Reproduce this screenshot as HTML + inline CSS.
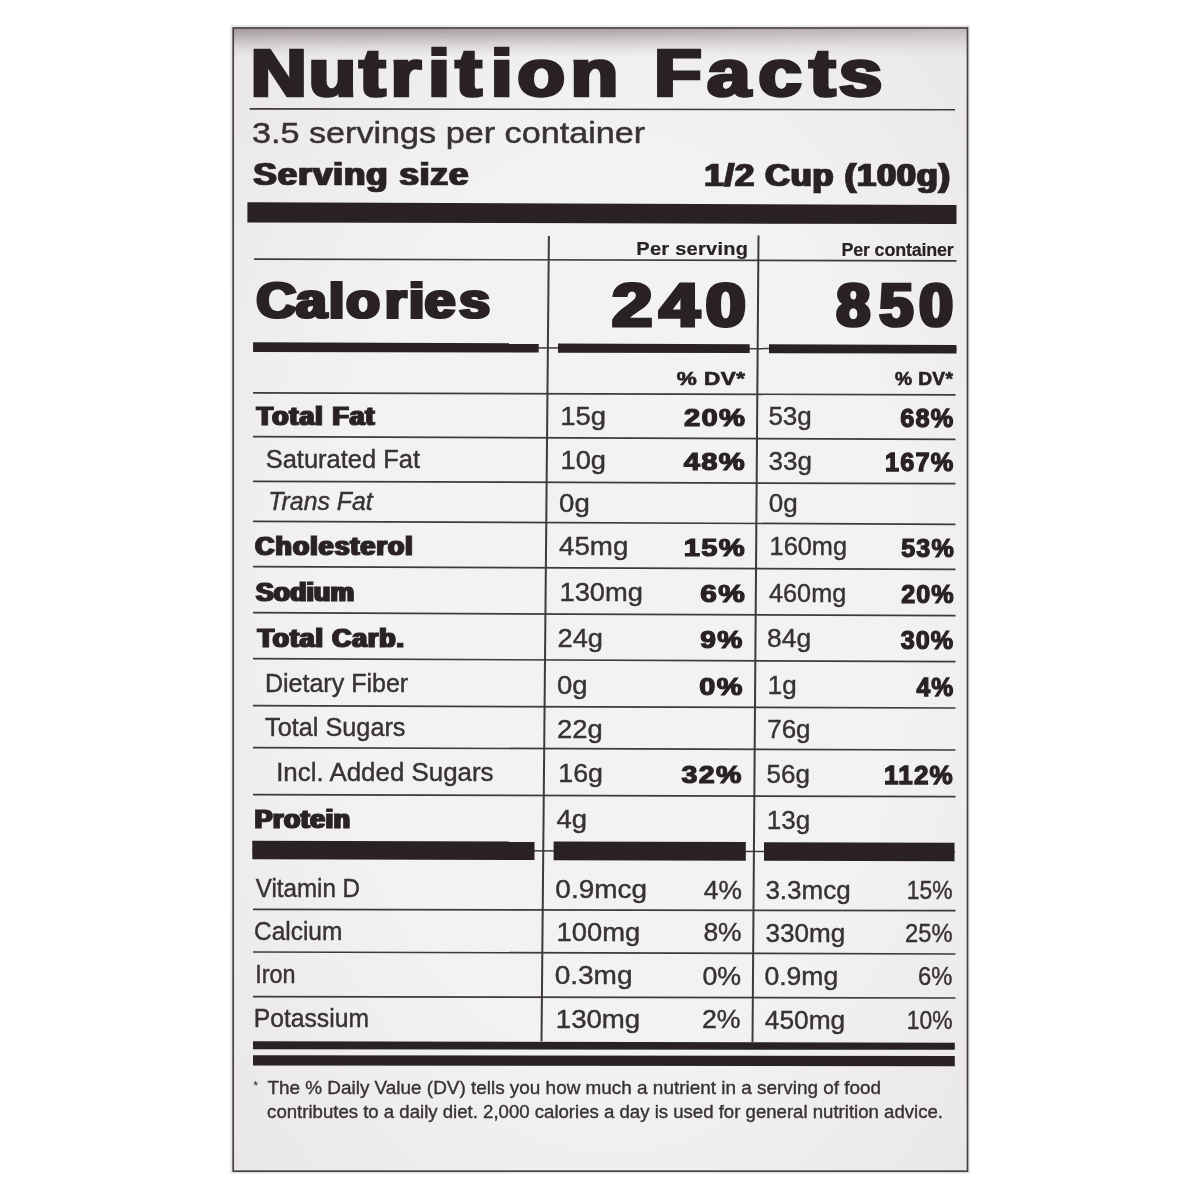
<!DOCTYPE html>
<html><head><meta charset="utf-8"><title>Nutrition Facts</title>
<style>
html,body{margin:0;padding:0;background:#fff;}
body{width:1200px;height:1200px;overflow:hidden;}
svg{display:block;}
</style></head><body>
<svg width="1200" height="1200" viewBox="0 0 1200 1200">
<defs>
<linearGradient id="topsh" x1="0" y1="0" x2="0" y2="1">
<stop offset="0" stop-color="#a3989b" stop-opacity="1"/>
<stop offset="0.35" stop-color="#aea4a6" stop-opacity="0.65"/>
<stop offset="0.7" stop-color="#bab1b2" stop-opacity="0.25"/>
<stop offset="1" stop-color="#c4bdbe" stop-opacity="0"/>
</linearGradient>
<linearGradient id="tophz" x1="0" y1="0" x2="1" y2="0">
<stop offset="0" stop-color="#fff" stop-opacity="1"/>
<stop offset="0.5" stop-color="#fff" stop-opacity="0.9"/>
<stop offset="1" stop-color="#fff" stop-opacity="0.55"/>
</linearGradient>
<radialGradient id="vig" cx="0.5" cy="0.5" r="0.72" fx="0.55" fy="0.5">
<stop offset="0.55" stop-color="#7a6a6c" stop-opacity="0"/>
<stop offset="1" stop-color="#7a6a6c" stop-opacity="0.09"/>
</radialGradient>
<filter id="dil1" x="-0.1" y="-0.2" width="1.2" height="1.4"><feMorphology operator="dilate" radius="1 0"/></filter>
<filter id="soft" filterUnits="userSpaceOnUse" x="0" y="0" width="1200" height="1200"><feGaussianBlur stdDeviation="0.45"/></filter>
<mask id="topmask" maskUnits="userSpaceOnUse" x="230" y="25" width="740" height="40">
<rect x="230" y="25" width="740" height="40" fill="url(#tophz)"/>
</mask>
</defs>
<rect x="0" y="0" width="1200" height="1200" fill="#ffffff"/>
<rect x="230" y="25" width="740" height="1148.5" fill="#f3f2f2"/>
<rect x="230" y="25" width="740" height="1148.5" fill="url(#vig)"/>
<rect x="234" y="29" width="733" height="28" fill="url(#topsh)" mask="url(#topmask)"/>
<rect x="233.2" y="28.0" width="734.3" height="1143.2" fill="none" stroke="#474141" stroke-width="1.7"/>
<g filter="url(#soft)">
<g>
<line x1="249.6" y1="108.9" x2="955" y2="109.8" stroke="#403a3a" stroke-width="1.6"/>
<polygon points="247.4,202.3 956.5,204.9 956.5,224.1 247.4,222.4" fill="#2a2323"/>
<line x1="254.0" y1="259.1" x2="956.5" y2="260.9" stroke="#403a3a" stroke-width="1.7"/>
<line x1="253" y1="347.1" x2="956.5" y2="349.2" stroke="#403a3a" stroke-width="1.5"/>
<polygon points="253.1,342.3003695806681 538.7,343.3558919687278 538.7,352.5903909026297 253.1,351.9002416488983" fill="#2a2323"/>
<polygon points="558,343.4272210376688 749.7,344.1357071783937 749.7,353.10027007818053 558,352.6370291400142" fill="#2a2323"/>
<polygon points="769,344.2070362473347 956.5,344.9 956.5,353.6 769,353.14690831556504" fill="#2a2323"/>
<line x1="253.0" y1="392.9" x2="955.5" y2="394.8" stroke="#403a3a" stroke-width="1.7"/>
<line x1="253.0" y1="436.7" x2="955.5" y2="439.3" stroke="#403a3a" stroke-width="1.7"/>
<line x1="253.0" y1="481.3" x2="955.5" y2="483.7" stroke="#403a3a" stroke-width="1.7"/>
<line x1="253.0" y1="521.3" x2="955.5" y2="524.3" stroke="#403a3a" stroke-width="1.7"/>
<line x1="253.0" y1="566.7" x2="955.5" y2="569.3" stroke="#403a3a" stroke-width="1.7"/>
<line x1="253.0" y1="612.7" x2="955.5" y2="615.7" stroke="#403a3a" stroke-width="1.7"/>
<line x1="253.0" y1="658.7" x2="955.5" y2="661.6" stroke="#403a3a" stroke-width="1.7"/>
<line x1="253.0" y1="705.7" x2="955.5" y2="708.0" stroke="#403a3a" stroke-width="1.7"/>
<line x1="253.0" y1="747.6" x2="955.5" y2="750.0" stroke="#403a3a" stroke-width="1.7"/>
<line x1="253.0" y1="794.7" x2="955.5" y2="796.7" stroke="#403a3a" stroke-width="1.7"/>
<line x1="252.3" y1="850.0" x2="955" y2="852.0" stroke="#403a3a" stroke-width="1.5"/>
<polygon points="252.3,840.7 534.5,841.5031877045682 534.5,860.1031877045681 252.3,859.3" fill="#2a2323"/>
<polygon points="553.6,841.5575494521133 745.8,842.1045823253166 745.8,860.7045823253166 553.6,860.1575494521132" fill="#2a2323"/>
<polygon points="764,842.1563825245482 954.5,842.6985769176035 954.5,861.2985769176034 764,860.7563825245481" fill="#2a2323"/>
<line x1="253.0" y1="909.3" x2="955.5" y2="910.7" stroke="#403a3a" stroke-width="1.7"/>
<line x1="253.0" y1="952.0" x2="955.5" y2="954.0" stroke="#403a3a" stroke-width="1.7"/>
<line x1="253.0" y1="996.7" x2="955.5" y2="998.0" stroke="#403a3a" stroke-width="1.7"/>
<polygon points="253,1041.3 954.8,1042.7 954.8,1049.8 253,1049.3" fill="#2a2323"/>
<polygon points="253,1055.3 954.8,1056.0 954.8,1066.2 253,1065.5" fill="#2a2323"/>
<line x1="548.9" y1="236.0" x2="541.5" y2="1041.5" stroke="#403a3a" stroke-width="2.0"/>
<line x1="758.5" y1="235.5" x2="752.5" y2="1042.0" stroke="#403a3a" stroke-width="2.0"/>
</g>
<g font-family="'Liberation Sans', sans-serif" fill="#2a2424" stroke="#2a2424" stroke-linejoin="miter" stroke-miterlimit="3">
<text transform="translate(0.00 96.33) scale(1.1600 1)" font-size="66.80" font-weight="bold" stroke-width="2.34" filter="url(#dil1)" x="216.10 266.28 309.93 336.79 369.29 392.94 423.25 446.03 491.96 532.77 563.94 609.75 653.96 697.86 723.36">Nutrition Facts</text>
<text transform="translate(251.90 143.06) scale(1.1410 1)" font-size="29.97" fill="#383232" stroke="#383232" stroke-width="0.48">3.5 servings per container</text>
<text transform="translate(253.59 185.22) scale(1.1200 1)" font-size="31.02" font-weight="bold" stroke-width="0.56" letter-spacing="0.98" filter="url(#dil1)">Serving size</text>
<text transform="translate(704.59 185.52) scale(1.1200 1)" font-size="30.59" font-weight="bold" stroke-width="0.55" letter-spacing="0.77" filter="url(#dil1)">1/2 Cup (100g)</text>
<text transform="translate(636.35 254.91) scale(1.1200 1)" font-size="17.91" font-weight="bold" stroke-width="0.18" letter-spacing="0.22">Per serving</text>
<text transform="translate(841.47 255.51) scale(0.9554 1)" font-size="18.77" font-weight="bold" stroke-width="0.19" letter-spacing="-0.19">Per container</text>
<text transform="translate(0.00 318.39) scale(1.1200 1)" font-size="49.11" font-weight="bold" stroke-width="2.21" filter="url(#dil1)" x="229.14 264.28 293.68 309.05 343.68 365.11 379.14 409.95">Calories</text>
<text transform="translate(0.00 325.91) scale(1.1609 1)" font-size="61.80" font-weight="bold" stroke-width="2.78" filter="url(#dil1)" x="527.40 568.09 608.03">240</text>
<text transform="translate(0.00 325.93) scale(0.9939 1)" font-size="60.85" font-weight="bold" stroke-width="2.74" filter="url(#dil1)" x="841.64 884.85 924.85">850</text>
<text transform="translate(676.74 384.68) scale(1.2260 1)" font-size="18.40" font-weight="bold" stroke-width="0.64" letter-spacing="0.37">% DV*</text>
<text transform="translate(895.04 384.68) scale(1.0404 1)" font-size="18.40" font-weight="bold" stroke-width="0.64" letter-spacing="0.37">% DV*</text>
<text transform="translate(256.80 424.60) scale(1.0000 1)" font-size="26.46" font-weight="bold" stroke-width="0.79" letter-spacing="1.17" filter="url(#dil1)">Total Fat</text>
<text transform="translate(265.66 467.79) scale(0.9603 1)" font-size="26.56" fill="#383232" stroke="#383232" stroke-width="0.42">Saturated Fat</text>
<text transform="translate(268.26 510.49) scale(0.9351 1)" font-size="26.56" fill="#383232" stroke="#383232" font-style="italic" stroke-width="0.42">Trans Fat</text>
<text transform="translate(255.27 554.60) scale(1.0000 1)" font-size="26.46" font-weight="bold" stroke-width="0.79" letter-spacing="1.18" filter="url(#dil1)">Cholesterol</text>
<text transform="translate(255.98 600.90) scale(1.0000 1)" font-size="26.46" font-weight="bold" stroke-width="0.79" letter-spacing="0.19" filter="url(#dil1)">Sodium</text>
<text transform="translate(257.65 646.60) scale(1.0000 1)" font-size="26.46" font-weight="bold" stroke-width="0.79" letter-spacing="1.00" filter="url(#dil1)">Total Carb.</text>
<text transform="translate(264.94 692.49) scale(0.9431 1)" font-size="26.56" fill="#383232" stroke="#383232" stroke-width="0.43">Dietary Fiber</text>
<text transform="translate(265.11 736.19) scale(0.9514 1)" font-size="26.56" fill="#383232" stroke="#383232" stroke-width="0.43">Total Sugars</text>
<text transform="translate(276.18 780.79) scale(0.9754 1)" font-size="26.56" fill="#383232" stroke="#383232" stroke-width="0.43">Incl. Added Sugars</text>
<text transform="translate(254.74 827.90) scale(1.0000 1)" font-size="26.46" font-weight="bold" stroke-width="0.79" letter-spacing="0.66" filter="url(#dil1)">Protein</text>
<text transform="translate(255.69 897.09) scale(0.9110 1)" font-size="26.56" fill="#383232" stroke="#383232" stroke-width="0.43">Vitamin D</text>
<text transform="translate(254.05 939.79) scale(0.9201 1)" font-size="26.56" fill="#383232" stroke="#383232" stroke-width="0.43">Calcium</text>
<text transform="translate(255.36 983.09) scale(0.8797 1)" font-size="26.56" fill="#383232" stroke="#383232" stroke-width="0.43">Iron</text>
<text transform="translate(253.77 1026.79) scale(0.9299 1)" font-size="26.56" fill="#383232" stroke="#383232" stroke-width="0.43">Potassium</text>
<text transform="translate(560.25 424.80) scale(1.0741 1)" font-size="25.57" fill="#383232" stroke="#383232" stroke-width="0.41">15g</text>
<text transform="translate(560.51 469.10) scale(1.0666 1)" font-size="25.57" fill="#383232" stroke="#383232" stroke-width="0.41">10g</text>
<text transform="translate(559.11 511.80) scale(1.0803 1)" font-size="25.57" fill="#383232" stroke="#383232" stroke-width="0.41">0g</text>
<text transform="translate(558.99 554.80) scale(1.0842 1)" font-size="25.57" fill="#383232" stroke="#383232" stroke-width="0.41">45mg</text>
<text transform="translate(559.51 601.10) scale(1.0681 1)" font-size="25.57" fill="#383232" stroke="#383232" stroke-width="0.41">130mg</text>
<text transform="translate(557.54 646.80) scale(1.0659 1)" font-size="25.57" fill="#383232" stroke="#383232" stroke-width="0.41">24g</text>
<text transform="translate(557.06 693.80) scale(1.0749 1)" font-size="25.57" fill="#383232" stroke="#383232" stroke-width="0.41">0g</text>
<text transform="translate(556.94 737.50) scale(1.0709 1)" font-size="25.57" fill="#383232" stroke="#383232" stroke-width="0.41">22g</text>
<text transform="translate(558.24 782.10) scale(1.0491 1)" font-size="25.57" fill="#383232" stroke="#383232" stroke-width="0.41">16g</text>
<text transform="translate(556.49 828.10) scale(1.0749 1)" font-size="25.57" fill="#383232" stroke="#383232" stroke-width="0.41">4g</text>
<text transform="translate(555.35 898.40) scale(1.0924 1)" font-size="25.57" fill="#383232" stroke="#383232" stroke-width="0.41">0.9mcg</text>
<text transform="translate(556.51 941.10) scale(1.0708 1)" font-size="25.57" fill="#383232" stroke="#383232" stroke-width="0.41">100mg</text>
<text transform="translate(554.65 984.40) scale(1.0963 1)" font-size="25.57" fill="#383232" stroke="#383232" stroke-width="0.41">0.3mg</text>
<text transform="translate(555.80 1028.10) scale(1.0800 1)" font-size="25.57" fill="#383232" stroke="#383232" stroke-width="0.41">130mg</text>
<text transform="translate(684.02 426.19) scale(1.1971 1)" font-size="24.39" font-weight="bold" stroke-width="1.22" letter-spacing="1.10">20%</text>
<text transform="translate(683.73 470.49) scale(1.1949 1)" font-size="24.39" font-weight="bold" stroke-width="1.22" letter-spacing="1.10">48%</text>
<text transform="translate(683.71 556.19) scale(1.1954 1)" font-size="24.39" font-weight="bold" stroke-width="1.22" letter-spacing="1.10">15%</text>
<text transform="translate(700.21 602.49) scale(1.2232 1)" font-size="24.39" font-weight="bold" stroke-width="1.22" letter-spacing="1.10">6%</text>
<text transform="translate(700.22 648.19) scale(1.1574 1)" font-size="24.39" font-weight="bold" stroke-width="1.22" letter-spacing="1.10">9%</text>
<text transform="translate(699.32 695.19) scale(1.1821 1)" font-size="24.39" font-weight="bold" stroke-width="1.22" letter-spacing="1.10">0%</text>
<text transform="translate(681.57 783.49) scale(1.1708 1)" font-size="24.39" font-weight="bold" stroke-width="1.22" letter-spacing="1.10">32%</text>
<text transform="translate(703.80 898.70) scale(1.0331 1)" font-size="25.57" fill="#383232" stroke="#383232" stroke-width="0.41">4%</text>
<text transform="translate(703.39 941.40) scale(1.0334 1)" font-size="25.57" fill="#383232" stroke="#383232" stroke-width="0.41">8%</text>
<text transform="translate(702.38 984.70) scale(1.0474 1)" font-size="25.57" fill="#383232" stroke="#383232" stroke-width="0.41">0%</text>
<text transform="translate(701.96 1028.40) scale(1.0451 1)" font-size="25.57" fill="#383232" stroke="#383232" stroke-width="0.41">2%</text>
<text transform="translate(768.40 425.20) scale(1.0170 1)" font-size="25.57" fill="#383232" stroke="#383232" stroke-width="0.41">53g</text>
<text transform="translate(768.60 469.50) scale(1.0170 1)" font-size="25.57" fill="#383232" stroke="#383232" stroke-width="0.41">33g</text>
<text transform="translate(768.70 512.20) scale(1.0170 1)" font-size="25.57" fill="#383232" stroke="#383232" stroke-width="0.41">0g</text>
<text transform="translate(769.62 555.20) scale(0.9900 1)" font-size="25.57" fill="#383232" stroke="#383232" stroke-width="0.41">160mg</text>
<text transform="translate(769.01 601.50) scale(0.9876 1)" font-size="25.57" fill="#383232" stroke="#383232" stroke-width="0.41">460mg</text>
<text transform="translate(766.99 647.20) scale(1.0335 1)" font-size="25.57" fill="#383232" stroke="#383232" stroke-width="0.41">84g</text>
<text transform="translate(767.78 694.20) scale(1.0170 1)" font-size="25.57" fill="#383232" stroke="#383232" stroke-width="0.41">1g</text>
<text transform="translate(767.19 737.90) scale(1.0170 1)" font-size="25.57" fill="#383232" stroke="#383232" stroke-width="0.41">76g</text>
<text transform="translate(766.60 782.50) scale(1.0170 1)" font-size="25.57" fill="#383232" stroke="#383232" stroke-width="0.41">56g</text>
<text transform="translate(766.78 828.50) scale(1.0170 1)" font-size="25.57" fill="#383232" stroke="#383232" stroke-width="0.41">13g</text>
<text transform="translate(765.40 898.80) scale(1.0168 1)" font-size="25.57" fill="#383232" stroke="#383232" stroke-width="0.41">3.3mcg</text>
<text transform="translate(765.39 941.50) scale(1.0216 1)" font-size="25.57" fill="#383232" stroke="#383232" stroke-width="0.41">330mg</text>
<text transform="translate(764.38 984.80) scale(1.0399 1)" font-size="25.57" fill="#383232" stroke="#383232" stroke-width="0.41">0.9mg</text>
<text transform="translate(764.80 1028.50) scale(1.0293 1)" font-size="25.57" fill="#383232" stroke="#383232" stroke-width="0.41">450mg</text>
<text transform="translate(900.24 427.17) scale(1.0106 1)" font-size="25.07" font-weight="bold" stroke-width="1.25" letter-spacing="1.13">68%</text>
<text transform="translate(885.05 471.47) scale(1.0100 1)" font-size="25.07" font-weight="bold" stroke-width="1.25" letter-spacing="1.13">167%</text>
<text transform="translate(901.24 557.17) scale(1.0012 1)" font-size="25.07" font-weight="bold" stroke-width="1.25" letter-spacing="1.13">53%</text>
<text transform="translate(901.14 603.47) scale(1.0030 1)" font-size="25.07" font-weight="bold" stroke-width="1.25" letter-spacing="1.13">20%</text>
<text transform="translate(900.64 649.17) scale(1.0031 1)" font-size="25.07" font-weight="bold" stroke-width="1.25" letter-spacing="1.13">30%</text>
<text transform="translate(916.42 696.17) scale(0.9854 1)" font-size="25.07" font-weight="bold" stroke-width="1.25" letter-spacing="1.13">4%</text>
<text transform="translate(884.12 784.47) scale(1.0375 1)" font-size="25.07" font-weight="bold" stroke-width="1.25" letter-spacing="1.13">112%</text>
<text transform="translate(906.75 899.00) scale(0.8939 1)" font-size="25.57" fill="#383232" stroke="#383232" stroke-width="0.41">15%</text>
<text transform="translate(905.08 941.70) scale(0.9270 1)" font-size="25.57" fill="#383232" stroke="#383232" stroke-width="0.41">25%</text>
<text transform="translate(918.07 985.00) scale(0.9321 1)" font-size="25.57" fill="#383232" stroke="#383232" stroke-width="0.41">6%</text>
<text transform="translate(906.75 1028.70) scale(0.8939 1)" font-size="25.57" fill="#383232" stroke="#383232" stroke-width="0.41">10%</text>
<text transform="translate(267.39 1094.42) scale(1.0635 1)" font-size="17.80" fill="#383232" stroke="#383232" stroke-width="0.36">The % Daily Value (DV) tells you how much a nutrient in a serving of food</text>
<text transform="translate(267.10 1117.82) scale(1.0133 1)" font-size="18.36" fill="#383232" stroke="#383232" stroke-width="0.37">contributes to a daily diet. 2,000 calories a day is used for general nutrition advice.</text>
<text transform="translate(253.2 1090.2) scale(1.0 1)" font-size="12.5" stroke="none">*</text>
</g>
</g>
</svg>
</body></html>
